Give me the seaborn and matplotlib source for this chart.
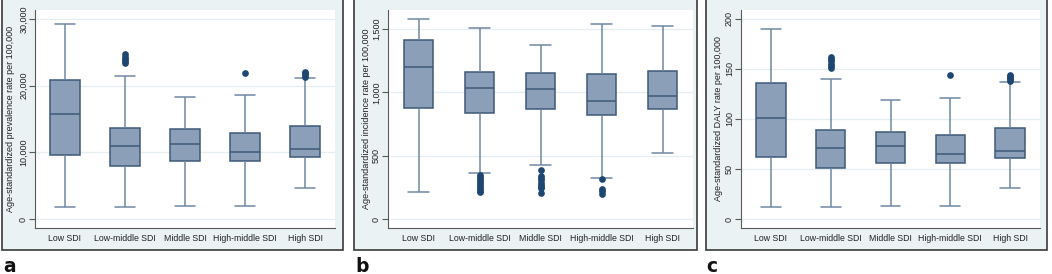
import numpy as np
import pandas as pd
import seaborn as sns
import matplotlib.pyplot as plt
from matplotlib.patches import Rectangle

groups = ["Low SDI", "Low-middle SDI", "Middle SDI", "High-middle SDI", "High SDI"]

# lower whisker, q1, median, q3, upper whisker
prev_stats = [
    [1800, 9650, 15750, 20900, 29200],
    [1800, 8000, 10950, 13700, 21500],
    [2000, 8700, 11200, 13450, 18350],
    [2000, 8700, 10000, 12950, 18600],
    [4700, 9250, 10450, 13900, 21100],
]
prev_out = [[], [23350, 23700, 24000, 24300, 24700], [], [21950],
            [21350, 21600, 21850, 22100]]

inc_stats = [
    [216, 879, 1198, 1414, 1580],
    [361, 835, 1032, 1161, 1511],
    [427, 869, 1029, 1156, 1375],
    [324, 822, 935, 1143, 1543],
    [519, 869, 969, 1169, 1522],
]
inc_out = [[], [345, 330, 315, 300, 285, 270, 255, 240, 225, 210],
           [387, 340, 322, 305, 288, 272, 256, 242, 203],
           [318, 235, 220, 200], []]

daly_stats = [
    [11.7, 62.3, 101, 136, 190],
    [11.7, 51.3, 71.3, 89.3, 139.7],
    [13.3, 56, 72.7, 87.3, 119.3],
    [13.3, 56, 64.7, 83.7, 121.3],
    [30.7, 60.7, 67.7, 90.7, 137.3],
]
daly_out = [[], [150.7, 153, 155.5, 158, 160, 161.7], [], [144],
            [138.5, 140, 141.5, 143, 144]]

prev_ticks = [0, 10000, 20000, 30000]
prev_ticklabels = ["0", "10,000", "20,000", "30,000"]
inc_ticks = [0, 500, 1000, 1500]
inc_ticklabels = ["0", "500", "1,000", "1,500"]
daly_ticks = [0, 50, 100, 150, 200]
daly_ticklabels = ["0", "50", "100", "150", "200"]


def expand(stats, outliers, reps=100):
    # repeat each summary value so the box quartiles land on the read values
    frames = []
    for g, s, o in zip(groups, stats, outliers):
        vals = np.concatenate([np.repeat(s, reps), np.array(o, dtype=float)])
        frames.append(pd.DataFrame({"group": g, "value": vals}))
    return pd.concat(frames, ignore_index=True)


sns.set_style("white")
plt.rcParams['font.family'] = ['Liberation Sans', 'DejaVu Sans']

W, H = 1052, 274
fig = plt.figure(figsize=(W / 100, H / 100), dpi=100)
fig.patch.set_facecolor("white")

fill_c = "#8b9fb8"
edge_c = "#3d5979"
whisk_c = "#6f88a3"
dot_c = "#1d4670"

panels = [
    dict(df=expand(prev_stats, prev_out), left=35, width=300, frame=(2, 343),
         ylabel="Age-standardized prevalence rate per 100,000",
         ticks=prev_ticks, labels=prev_ticklabels, ylim=(-1350, 31350),
         labx=-0.067, letter="a", lx=3),
    dict(df=expand(inc_stats, inc_out), left=388, width=305, frame=(354, 697),
         ylabel="Age-standardized incidence rate per 100,000",
         ticks=inc_ticks, labels=inc_ticklabels, ylim=(-71, 1650),
         labx=-0.057, letter="b", lx=355),
    dict(df=expand(daly_stats, daly_out), left=741, width=299, frame=(706, 1047),
         ylabel="Age-standardized DALY rate per 100,000",
         ticks=daly_ticks, labels=daly_ticklabels, ylim=(-9, 209),
         labx=-0.06, letter="c", lx=706),
]

for p in panels:
    x0, x1 = p["frame"]
    fig.patches.append(Rectangle((x0 / W, 24 / H), (x1 - x0) / W, 1.0,
                                 transform=fig.transFigure, facecolor="#eaf2f3",
                                 edgecolor="#3a3a3a", lw=1.2, zorder=-5))
    ax = fig.add_axes([p["left"] / W, 46 / H, p["width"] / W, 218 / H], zorder=2)
    ax.set_facecolor("white")
    kw = dict(data=p["df"], x="group", y="value", order=groups, ax=ax,
              whis=(5, 95), width=0.49, color=fill_c, saturation=1,
              linecolor=edge_c, linewidth=1.1, fliersize=3.8,
              whiskerprops=dict(color=whisk_c, lw=1.1),
              capprops=dict(color=whisk_c, lw=1.1),
              medianprops=dict(color=edge_c, lw=1.1),
              flierprops=dict(marker="o", markerfacecolor=dot_c,
                              markeredgecolor=dot_c))
    try:
        sns.boxplot(capwidths=0.33, **kw)
    except TypeError:
        sns.boxplot(**kw)

    ax.set_xlim(-0.5, 4.5)
    ax.set_ylim(*p["ylim"])
    ax.set_yticks(p["ticks"])
    ax.set_yticklabels(p["labels"], rotation=90, va="center", fontsize=6.5, color="#222222")
    ax.tick_params(axis="y", length=4, width=0.8, color="#5a5a5a", pad=1, left=True)
    ax.tick_params(axis="x", length=0, pad=4, labelsize=6.3, labelcolor="#222222")
    ax.set_xlabel("")
    ax.set_ylabel(p["ylabel"], fontsize=6.5, color="#222222")
    ax.yaxis.set_label_coords(p["labx"], 0.5)
    ax.yaxis.grid(True, color="#e6eef1", lw=0.9)
    ax.xaxis.grid(False)
    ax.set_axisbelow(True)
    for s in ["top", "right"]:
        ax.spines[s].set_visible(False)
    for s in ["left", "bottom"]:
        ax.spines[s].set_color("#5a5a5a")
        ax.spines[s].set_linewidth(0.8)

    fig.text(p["lx"] / W, 2.5 / H, p["letter"], fontsize=13.5, fontweight="bold",
             family="DejaVu Sans", color="#111111", va="baseline", ha="left")

fig.savefig("out.png", dpi=100)
